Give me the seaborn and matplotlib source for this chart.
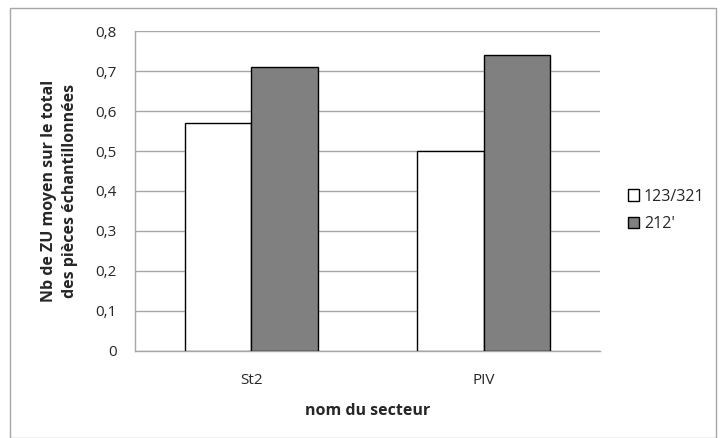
import matplotlib
matplotlib.use('Agg')
import matplotlib.pyplot as plt
import seaborn as sns
import pandas as pd
from matplotlib.patches import Rectangle

# --- data ---
secteurs = ['St2', 'PIV']
series = ["123/321", "212'"]
val_123 = [0.57, 0.50]
val_212 = [0.71, 0.74]
yticks = [0, 0.1, 0.2, 0.3, 0.4, 0.5, 0.6, 0.7, 0.8]

df = pd.DataFrame({
    'secteur': secteurs * 2,
    'serie': [series[0]] * 2 + [series[1]] * 2,
    'valeur': val_123 + val_212,
})

sns.set_style('white')
plt.rcParams['font.family'] = ['Open Sans', 'DejaVu Sans']

fig = plt.figure(figsize=(7.26, 4.38), dpi=100)
ax = fig.add_axes([0.186, 0.199, 0.640, 0.730])

sns.barplot(data=df, x='secteur', y='valeur', hue='serie', order=secteurs,
            hue_order=series, palette=['white', '#808080'], width=0.572,
            edgecolor='black', linewidth=1.0, ax=ax, zorder=3)

ax.set_ylim(0, 0.8)
ax.set_yticks(yticks)
ax.set_yticklabels([('%g' % t).replace('.', ',') for t in yticks], fontsize=11)
ax.yaxis.grid(True, color='#a6a6a6', linewidth=1.0, zorder=0)
ax.set_axisbelow(True)
ax.tick_params(axis='y', length=5, color='#a6a6a6', width=1.0, pad=8)
ax.tick_params(axis='x', length=0, pad=16, labelsize=11)

for side in ['top', 'right']:
    ax.spines[side].set_visible(False)
for side in ['left', 'bottom']:
    ax.spines[side].set_color('#a6a6a6')
    ax.spines[side].set_linewidth(1.0)

ax.set_xlabel('nom du secteur', fontsize=11.5, fontweight='bold', labelpad=11)
ax.set_ylabel('Nb de ZU moyen sur le total\ndes pièces échantillonnées',
              fontsize=11.5, fontweight='bold', labelpad=13, linespacing=1.4)

leg = ax.legend(loc='center left', bbox_to_anchor=(1.03, 0.44), frameon=False,
                fontsize=11.5, handlelength=0.7, handleheight=0.7,
                handletextpad=0.3, labelspacing=0.7)

# outer border of the chart
fig.patches.append(Rectangle((10 / 726, 0.0), 706 / 726, 1 - 8 / 438,
                             transform=fig.transFigure, fill=False,
                             edgecolor='#a6a6a6', linewidth=1.0))

fig.savefig('out.png', dpi=100)
